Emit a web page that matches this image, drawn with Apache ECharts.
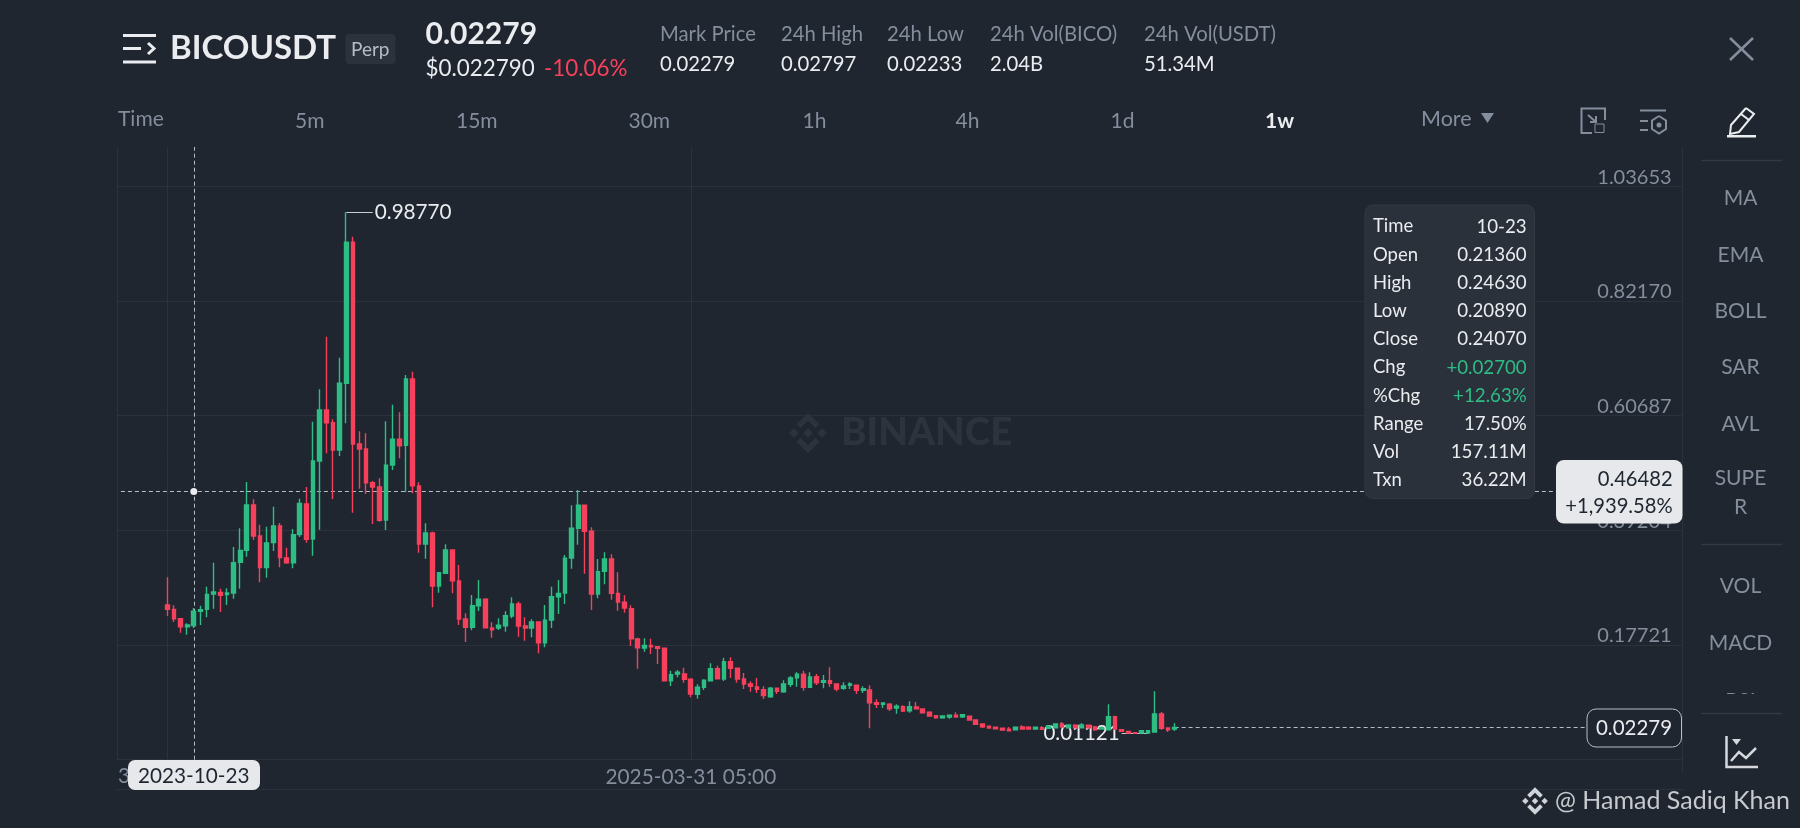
<!DOCTYPE html>
<html><head><meta charset="utf-8">
<style>html,body{margin:0;padding:0;background:#1f2630}#c{width:1800px;height:828px}</style>
<script src="https://cdn.jsdelivr.net/npm/echarts@6/dist/echarts.min.js"></script>
</head><body><div id="c"></div>
<script>
const opens=[.2521,.2440,.2265,.2115,.2136,.2403,.2440,.2727,.2758,.2715,.2746,.3320,.3545,.4394,.3814,.3221,.3689,.4001,.3402,.3314,.3839,.4413,.3758,.5218,.6174,.5936,.5424,.6674,.9315,.5537,.5443,.4812,.4731,.4113,.5144,.5625,.5512,.6754,.4750,.3664,.3870,.2877,.3115,.3551,.2971,.2259,.2104,.2508,.2628,.2091,.2091,.2134,.2315,.2540,.2128,.2091,.2203,.1815,.2240,.2677,.2746,.3402,.3958,.4389,.3902,.2727,.3153,.3383,.2740,.2572,.2452,.1885,.1716,.1766,.1740,.1710,.1103,.1229,.1229,.1130,.0849,.0980,.1103,.1328,.1135,.1459,.1336,.1135,.1042,.0985,.0935,.0804,.0961,.0897,.1036,.1160,.1223,.0980,.1178,.1073,.1103,.1042,.0961,.1017,.1017,.0924,.0929,.0691,.0661,.0661,.0592,.0616,.0542,.0611,.0573,.0512,.0448,.0410,.0424,.0455,.0429,.0437,.0367,.0292,.0249,.0231,.0212,.0193,.0186,.0236,.0231,.0199,.0223,.0212,.0223,.0292,.0223,.0268,.0223,.0268,.0236,.0199,.0186,.0429,.0186,.0155,.0130,.0124,.0124,.0142,.0480,.0218,.0199];
const closes=[.2440,.2265,.2115,.2147,.2407,.2434,.2721,.2765,.2702,.2746,.3314,.3545,.4394,.3814,.3221,.3683,.4001,.3408,.3314,.3839,.4425,.3751,.5218,.6174,.5936,.5424,.6674,.9315,.5537,.5443,.4812,.4731,.4108,.5138,.5625,.5505,.6754,.4756,.3664,.3870,.2877,.3126,.3551,.2976,.2259,.2104,.2508,.2628,.2096,.2059,.2141,.2321,.2540,.2128,.2091,.2203,.1815,.2235,.2677,.2740,.3396,.3958,.4389,.3902,.2727,.3145,.3383,.2740,.2578,.2465,.1890,.1722,.1766,.1740,.1710,.1103,.1216,.1261,.1130,.0854,.0980,.1111,.1328,.1141,.1459,.1336,.1135,.1042,.0999,.0942,.0823,.0961,.0905,.1042,.1154,.1223,.0980,.1173,.1066,.1103,.1055,.0948,.1004,.1042,.0924,.0954,.0691,.0661,.0686,.0579,.0624,.0536,.0616,.0579,.0504,.0442,.0410,.0442,.0455,.0424,.0467,.0367,.0287,.0242,.0218,.0204,.0180,.0167,.0231,.0199,.0199,.0231,.0193,.0255,.0292,.0236,.0274,.0223,.0274,.0223,.0186,.0223,.0429,.0199,.0155,.0124,.0118,.0167,.0167,.0480,.0212,.0186,.02279];
const lows=[.2315,.2203,.2003,.1966,.2089,.2147,.2290,.2452,.2390,.2521,.2640,.2827,.3427,.3739,.2946,.3033,.3533,.3227,.3295,.3208,.3795,.3689,.3445,.3932,.5363,.4507,.5312,.5925,.4250,.4700,.4600,.4038,.4082,.3926,.5050,.5269,.4632,.4613,.3501,.3389,.2478,.2752,.3102,.2740,.2147,.1828,.2047,.2409,.2091,.1909,.2053,.2021,.2272,.1928,.1853,.1916,.1617,.1729,.2091,.2353,.2540,.3201,.3651,.3108,.2428,.2647,.2909,.2621,.2415,.2377,.1753,.1328,.1647,.1604,.1416,.1092,.1004,.1167,.1066,.0792,.0766,.0929,.1092,.1130,.1098,.1154,.1066,.0948,.0897,.0873,.0761,.0785,.0854,.0879,.0985,.0991,.0916,.0972,.1023,.0961,.0985,.0905,.0935,.0948,.0854,.0873,.0212,.0592,.0592,.0536,.0485,.0517,.0504,.0573,.0493,.0437,.0392,.0392,.0392,.0418,.0405,.0362,.0274,.0218,.0212,.0199,.0174,.0161,.0180,.0193,.0193,.0193,.0186,.0204,.0218,.0231,.0218,.0212,.0218,.0218,.0167,.0193,.0180,.0180,.0142,.0118,.0115,.0118,.01121,.0130,.0186,.0142,.0161];
const highs=[.3040,.2515,.2265,.2178,.2463,.2509,.2865,.3314,.2827,.2833,.3608,.3957,.4825,.4500,.4026,.3989,.4363,.4057,.3595,.3945,.4513,.4732,.5955,.6561,.7547,.5999,.7153,.9877,.9420,.5775,.5737,.4844,.4894,.5962,.6273,.6131,.6829,.6891,.4820,.4052,.3894,.3139,.3658,.3565,.3271,.2366,.2709,.2990,.2647,.2197,.2272,.2403,.2666,.2583,.2291,.2253,.2209,.2521,.2864,.2990,.3458,.4389,.4675,.4400,.3977,.3383,.3508,.3471,.3134,.2703,.2516,.1909,.1898,.1890,.1753,.1716,.1291,.1304,.1347,.1148,.1036,.1130,.1429,.1384,.1534,.1542,.1347,.1248,.1092,.1154,.0999,.0985,.0967,.1111,.1192,.1261,.1291,.1261,.1229,.1210,.1354,.1047,.1073,.1073,.1023,.0999,.1017,.0755,.0686,.0686,.0661,.0643,.0718,.0705,.0579,.0530,.0461,.0448,.0461,.0512,.0480,.0442,.0381,.0306,.0261,.0236,.0218,.0236,.0236,.0268,.0249,.0236,.0255,.0261,.0298,.0330,.0279,.0287,.0311,.0279,.0255,.0231,.0661,.0448,.0193,.0161,.0137,.0171,.0174,.0905,.0517,.0223,.0306];
const yTicks=[-0.03762,0.17721,0.39204,0.60687,0.82170,1.03653];
const yLabels=[0.17721,0.39204,0.60687,0.82170,1.03653];
const xGridSlots=[7,86];
const xLabels={86:'2025-03-31 05:00'};
const leadingSlots=7, totalSlots=236;
const crossIndex=11, crossPrice=0.46482, lastPrice=0.02279, highPrice=0.98770, lowPrice=0.01121, highIndex=34, lowIndex=155;

const FONT='Lato', BG='#1f2630', GREEN='#2ebd85', RED='#f6405c', GREY='#848e9c', WHITE='#eaecef', GRID='#2b323c', BOX='#e6e8ec', DARK='#1f2630';
const categories=Array.from({length:totalSlots},(_,i)=>String(i));
const candles=opens.map((o,i)=>[leadingSlots+i,o,closes[i],lows[i],highs[i]]);
const g=[];
function T(text,x,y,o={}){g.push({type:'text',x,y,z:o.z||120,style:{text,fill:o.c||WHITE,fontSize:o.s||20,fontFamily:FONT,fontWeight:o.w||400,align:o.a||'left',verticalAlign:'middle'}});}
function L(x1,y1,x2,y2,c,w,z){g.push({type:'line',z:z==null?110:z,shape:{x1,y1,x2,y2},style:{stroke:c,lineWidth:w||1}});}
function R(x,y,w,h,f,r,s,z){g.push({type:'rect',z:z==null?100:z,shape:{x,y,width:w,height:h,r:r||0},style:{fill:f,stroke:s||null,lineWidth:s?1:0}});}
function P(pts,o){g.push({type:o.fill?'polygon':'polyline',z:o.z==null?110:o.z,shape:{points:pts},style:{fill:o.fill||null,stroke:o.stroke||null,lineWidth:o.w||1.5}});}
function logo(cx,cy,k,col,z){const d=(x,y,r)=>P([[cx+x*k,cy+(y-r)*k],[cx+(x+r)*k,cy+y*k],[cx+x*k,cy+(y+r)*k],[cx+(x-r)*k,cy+y*k]],{fill:col,z});
 d(0,0,3.5);d(-10.5,0,3.5);d(10.5,0,3.5);
 P([[cx,cy-15*k],[cx+8.5*k,cy-6.5*k],[cx+5.5*k,cy-3.5*k],[cx,cy-9*k],[cx-5.5*k,cy-3.5*k],[cx-8.5*k,cy-6.5*k]],{fill:col,z});
 P([[cx,cy+15*k],[cx+8.5*k,cy+6.5*k],[cx+5.5*k,cy+3.5*k],[cx,cy+9*k],[cx-5.5*k,cy+3.5*k],[cx-8.5*k,cy+6.5*k]],{fill:col,z});}

// frame
L(117.5,147,117.5,760,GRID,1,1);
L(1682.5,147,1682.5,773,GRID,1,1);
L(117,789.5,1683,789.5,GRID,1,1);
// watermark
logo(808,433,1.35,'#2c333d',0);
g.push({type:'text',x:841,y:433,z:0,style:{text:'BINANCE',fill:'#2c333d',fontSize:38.5,fontWeight:900,fontFamily:FONT,align:'left',verticalAlign:'middle'}});
// the part of the first date tick that stays visible
T('3',118,776,{s:20.8,c:GREY,z:90});
// header
L(123,35.5,156,35.5,WHITE,3);L(123,48.5,141,48.5,WHITE,3);L(123,62,156,62,WHITE,3);
P([[148,43],[154,48.5],[148,54]],{stroke:WHITE,w:3});
T('BICOUSDT',170,48.5,{s:33,w:700});
R(345.5,34,50,30,'#2b323c',4);
T('Perp',351,49.5,{s:19,c:'#b7bdc6'});
T('0.02279',425.5,34,{s:30,w:700});
T('$0.022790',425.5,69,{s:22.4});
T('-10.06%',544,69,{s:22.4,c:RED});
[['Mark Price','0.02279',660],['24h High','0.02797',781],['24h Low','0.02233',887],['24h Vol(BICO)','2.04B',990],['24h Vol(USDT)','51.34M',1144]].forEach(a=>{T(a[0],a[2],34.5,{s:20.3,c:GREY});T(a[1],a[2],64.5,{s:20.3});});
T('Time',118,119,{s:21,c:GREY});
[['5m',295],['15m',456],['30m',628.5],['1h',802.5],['4h',955.5],['1d',1110.5]].forEach(a=>T(a[0],a[1],121,{s:21,c:GREY}));
T('1w',1265,121,{s:21,w:700});
T('More',1421,119,{s:21.5,c:GREY});
P([[1481,113],[1494,113],[1487.5,123]],{fill:GREY});
// toolbar icons
P([[1605,120],[1605,108.5],[1581.5,108.5],[1581.5,133],[1592,133]],{stroke:GREY,w:2});
R(1595,124,9,8.5,'rgba(0,0,0,0)',0,GREY,110);
L(1588,115,1596,122,GREY,2);P([[1590,122],[1596,122],[1596,116]],{stroke:GREY,w:2});
L(1640,110.5,1666,110.5,GREY,2);L(1640,121,1648,121,GREY,2);L(1640,130,1648,130,GREY,2);
P([[1659,116],[1666,120.5],[1666,129],[1659,133.5],[1652,129],[1652,120.5],[1659,116]],{stroke:GREY,w:2});
g.push({type:'circle',z:110,shape:{cx:1659,cy:125,r:2.5},style:{fill:GREY}});
// close
L(1730,38,1753,60,GREY,2.5);L(1753,38,1730,60,GREY,2.5);
// pencil
P([[1746,108],[1754,114],[1739,132],[1730,134],[1731,125],[1746,108]],{stroke:WHITE,w:2});
L(1741,114,1749,120,WHITE,2);
R(1727,135,29,2.5,WHITE);
// side
L(1701,160.5,1782,160.5,'#323943',1.5);
[['MA',198.5],['EMA',255],['BOLL',311],['SAR',367.5],['AVL',424],['SUPE',478.5],['R',507.5],['VOL',586],['MACD',643],['RSI',701]].forEach(a=>T(a[0],1740.5,a[1],{s:21,c:GREY,a:'center'}));
R(1700,694,84,20,BG,0,null,130);
L(1701,544.5,1782,544.5,'#323943',1.5);
L(1701,713.5,1782,713.5,'#323943',1.5,140);
// chart-type icon
P([[1726.5,736],[1726.5,767],[1758,767]],{stroke:'#d5d8dc',w:2.5});
P([[1731,761],[1739,752],[1746,758],[1756,748]],{stroke:'#d5d8dc',w:2.5});
P([[1732,739],[1741,739],[1736.5,745]],{fill:'#d5d8dc'});
// tooltip box
R(1365,205,169.5,293.5,'#2a313b',8,'#323943');
[['Time','10-23'],['Open','0.21360'],['High','0.24630'],['Low','0.20890'],['Close','0.24070'],['Chg','+0.02700',GREEN],['%Chg','+12.63%',GREEN],['Range','17.50%'],['Vol','157.11M'],['Txn','36.22M']].forEach((a,i)=>{const y=226.5+i*28.2;T(a[0],1373,y,{s:18.5});T(a[1],1526.7,y,{s:18.7,a:'right',c:a[2]||WHITE});});
// crosshair price box
R(1556,460,126.5,63.5,BOX,8);
T('0.46482',1672.7,479.5,{s:20.2,a:'right',c:DARK});
T('+1,939.58%',1672.7,506,{s:20.2,a:'right',c:DARK});
// last price box
R(1587,709,94.5,38,BG,9,'#b7bdc6');
T('0.02279',1634,728.5,{s:20.5,a:'center'});
// date box
R(128,760,132,30,BOX,7);
T('2023-10-23',193.7,776,{s:20.7,a:'center',c:DARK});
// signature
logo(1535,801,0.92,'#d0d3d7');
T('@ Hamad Sadiq Khan',1555,801,{s:25,c:'#c6c9cd'});

const dash={type:[4,3],color:'#b7bdc6',width:1};
const option={
 backgroundColor:BG,animation:false,
 grid:{left:117.6,top:147,width:1564,height:612.7,containLabel:false},
 xAxis:{type:'category',data:categories,boundaryGap:true,
  axisLine:{show:false},axisTick:{show:false},
  axisLabel:{show:true,interval:(i)=>xLabels[i]!==undefined,formatter:(v,i)=>xLabels[i]||'',color:GREY,fontSize:20.8,fontFamily:FONT,margin:7,hideOverlap:false},
  splitLine:{show:true,alignWithLabel:true,interval:(i)=>xGridSlots.includes(i),lineStyle:{color:GRID,width:1}}},
 yAxis:{type:'value',position:'right',min:-0.03762,max:1.10997,scale:true,
  axisLine:{show:false},
  axisTick:{show:false,customValues:yTicks},
  axisLabel:{inside:true,customValues:yLabels,formatter:v=>v.toFixed(5),color:GREY,fontSize:20,fontFamily:FONT,margin:10,verticalAlign:'bottom',align:'right',lineHeight:18,showMinLabel:true,showMaxLabel:true},
  splitLine:{show:true,lineStyle:{color:GRID,width:1}}},
 series:[{type:'candlestick',data:candles,encode:{x:0,y:[1,2,3,4]},barWidth:4.2,z:5,
  itemStyle:{color:GREEN,color0:RED,borderColor:GREEN,borderColor0:RED,borderWidth:1.4},
  markLine:{silent:true,symbol:'none',animation:false,precision:6,data:[
    [{coord:[0,crossPrice],lineStyle:dash,label:{show:false}},{coord:[totalSlots-1,crossPrice]}],
    [{coord:[crossIndex,-0.03762],lineStyle:dash,label:{show:false}},{coord:[crossIndex,1.10997]}],
    [{coord:[leadingSlots+opens.length-1,lastPrice],lineStyle:dash,label:{show:false}},{coord:[totalSlots-1,lastPrice]}],
    [{coord:[highIndex,highPrice],lineStyle:{type:'solid',color:'#c9ccd1',width:1},label:{show:true,position:'end',formatter:highPrice.toFixed(5),color:WHITE,fontSize:20.7,fontFamily:FONT,distance:2,padding:[0,0,4,0]}},{coord:[highIndex+4,highPrice]}],
    [{coord:[lowIndex,lowPrice],lineStyle:{type:'solid',color:'#c9ccd1',width:1},label:{show:true,position:'end',formatter:lowPrice.toFixed(5),color:WHITE,fontSize:20.5,fontFamily:FONT,distance:2,padding:[0,0,4,0]}},{coord:[lowIndex-4,lowPrice]}]
  ]},
  markPoint:{silent:true,animation:false,data:[{coord:[crossIndex,crossPrice],symbol:'circle',symbolSize:7,itemStyle:{color:'#eaecef'},label:{show:false}}]}
 }],
 graphic:{elements:g}
};
echarts.init(document.getElementById('c')).setOption(option);
</script></body></html>
